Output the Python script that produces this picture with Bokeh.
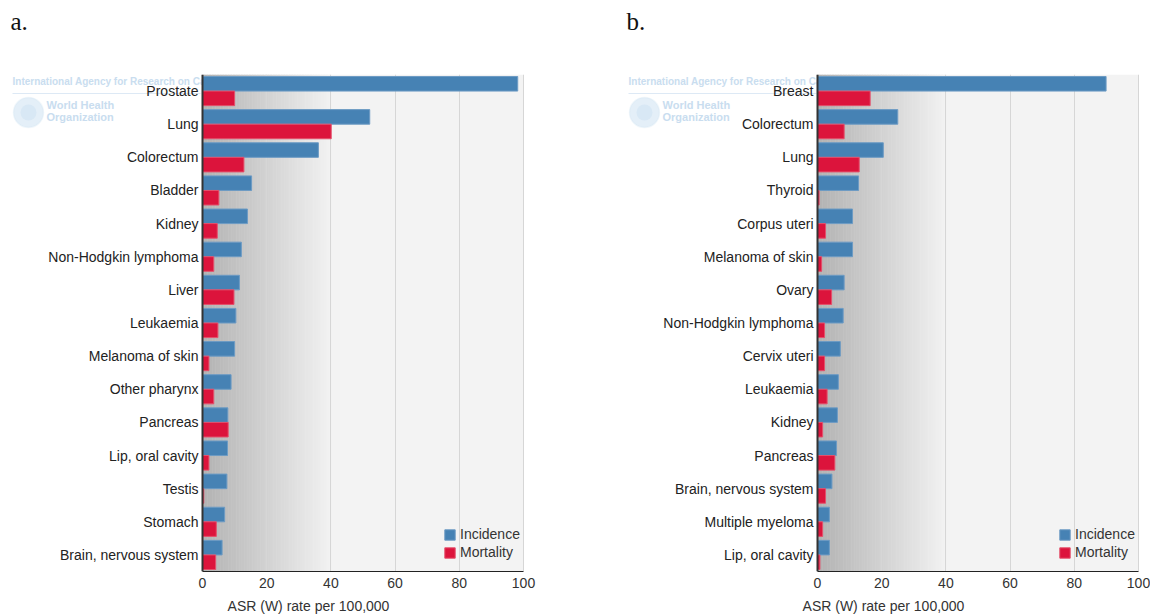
from bokeh.plotting import figure
from bokeh.layouts import row
from bokeh.models import (Range1d, FactorRange, Label, Legend, LegendItem,
                          ColumnDataSource, BoxAnnotation, Title)
from bokeh.transform import dodge
from bokeh.embed import file_html
from bokeh.resources import INLINE
import numpy as np

# ---------------- data ----------------
men_sites = ["Prostate", "Lung", "Colorectum", "Bladder", "Kidney",
             "Non-Hodgkin lymphoma", "Liver", "Leukaemia", "Melanoma of skin",
             "Other pharynx", "Pancreas", "Lip, oral cavity", "Testis",
             "Stomach", "Brain, nervous system"]
men_incidence = [98.2, 52.1, 36.1, 15.3, 14.0, 12.1, 11.5, 10.4, 10.0, 8.9,
                 7.9, 7.8, 7.6, 6.9, 6.1]
men_mortality = [10.0, 40.1, 12.9, 5.1, 4.6, 3.5, 9.8, 4.8, 2.0, 3.5,
                 8.0, 2.0, 0.4, 4.3, 4.1]

women_sites = ["Breast", "Colorectum", "Lung", "Thyroid", "Corpus uteri",
               "Melanoma of skin", "Ovary", "Non-Hodgkin lymphoma",
               "Cervix uteri", "Leukaemia", "Kidney", "Pancreas",
               "Brain, nervous system", "Multiple myeloma", "Lip, oral cavity"]
women_incidence = [89.9, 25.0, 20.5, 12.8, 10.9, 10.9, 8.3, 8.0, 7.1, 6.5,
                   6.2, 5.9, 4.5, 3.7, 3.7]
women_mortality = [16.4, 8.3, 13.0, 0.5, 2.5, 1.3, 4.4, 2.2, 2.2, 3.0,
                   1.6, 5.4, 2.5, 1.6, 0.75]

x_ticks = [0, 20, 40, 60, 80, 100]
series_names = ["Incidence", "Mortality"]
axis_title = "ASR (W) rate per 100,000"
panel_letters = ["a.", "b."]
watermark_lines = ["International Agency for Research on Cancer",
                   "World Health", "Organization"]

BLUE = "#4682b4"
RED = "#dc143c"
FONT = "Liberation Sans"
PPU = 3.21          # pixels per x unit
TOP = 74            # frame top
HEIGHT = 616
BOTTOM = 45


def screen_box(left, right, bottom, top, **kw):
    return BoxAnnotation(left=left, right=right, bottom=bottom, top=top,
                         left_units="screen", right_units="screen",
                         bottom_units="screen", top_units="screen",
                         level="image", **kw)


def make_panel(letter, sites, inc, mort, left_px, width):
    factors = list(reversed(sites))
    src = ColumnDataSource(dict(site=sites, inc=inc, mort=mort))
    right_px = width - left_px - 100 * PPU
    p = figure(y_range=FactorRange(factors=factors),
               x_range=Range1d(-left_px / PPU, 100 + right_px / PPU),
               width=width, height=HEIGHT,
               min_border_left=0, min_border_right=0,
               min_border_top=TOP, min_border_bottom=BOTTOM,
               output_backend="svg", toolbar_location=None)
    p.border_fill_color = "white"
    p.background_fill_color = "white"
    p.outline_line_color = None
    fb = HEIGHT - BOTTOM      # page y of the frame bottom

    # faint watermark (behind the plotting area)
    wm = "#c9ddef"
    p.add_layout(Label(x=12, y=fb - 86, x_units="screen", y_units="screen",
                       text=watermark_lines[0], text_font=FONT,
                       text_font_style="bold", text_font_size="10px",
                       text_color=wm, level="image"))
    p.add_layout(screen_box(12, 200, fb - 93.5, fb - 92.5, fill_color="#dde9f5",
                            fill_alpha=1, line_color=None))
    p.add_layout(screen_box(13, 43, fb - 127, fb - 97, fill_color="#e4eff8",
                            fill_alpha=1, line_color="#d2e4f3", line_width=1.5,
                            border_radius=15))
    p.add_layout(screen_box(20, 36, fb - 120, fb - 104, fill_color="#d8e8f5",
                            fill_alpha=1, line_color=None, border_radius=8))
    p.add_layout(Label(x=46, y=fb - 110, x_units="screen", y_units="screen",
                       text=watermark_lines[1], text_font=FONT,
                       text_font_style="bold", text_font_size="11px",
                       text_color=wm, level="image"))
    p.add_layout(Label(x=46, y=fb - 122, x_units="screen", y_units="screen",
                       text=watermark_lines[2], text_font=FONT,
                       text_font_style="bold", text_font_size="11px",
                       text_color=wm, level="image"))

    # plotting area background + gradient from 0 to 40
    p.add_layout(BoxAnnotation(left=0, right=100, fill_color="#f3f3f3",
                               fill_alpha=1, line_color=None, level="image"))
    n = 80
    edges = np.linspace(0, 40, n + 1)
    for i in range(n):
        t = (i + 0.5) / n
        g = int(round(0xb2 + (0xf2 - 0xb2) * t))
        p.add_layout(BoxAnnotation(left=edges[i], right=edges[i + 1] + 0.15,
                                   fill_color=f"#{g:02x}{g:02x}{g:02x}",
                                   fill_alpha=1, line_color=None, level="image"))

    r1 = p.hbar(y=dodge("site", 0.22, range=p.y_range), left=0, right="inc",
                height=0.44, source=src, fill_color=BLUE,
                line_color="#6d9bc4", line_width=1)
    r2 = p.hbar(y=dodge("site", -0.22, range=p.y_range), left=0, right="mort",
                height=0.44, source=src, fill_color=RED,
                line_color="#e4506b", line_width=1)

    p.xgrid.grid_line_color = "#d6d6d6"
    p.ygrid.grid_line_color = None
    p.xaxis.ticker = x_ticks

    xa = p.xaxis[0]
    xa.bounds = (0, 100)
    xa.axis_line_color = "#222222"
    xa.major_tick_line_color = None
    xa.minor_tick_line_color = None
    xa.major_tick_out = 0
    xa.major_tick_in = 0
    xa.major_label_standoff = 6
    xa.major_label_text_font = FONT
    xa.major_label_text_font_size = "14px"
    xa.major_label_text_color = "#333333"
    xa.axis_label = axis_title
    xa.axis_label_text_font = FONT
    xa.axis_label_text_font_style = "normal"
    xa.axis_label_text_font_size = "14px"
    xa.axis_label_text_color = "#333333"
    xa.axis_label_standoff = 7

    ya = p.yaxis[0]
    ya.fixed_location = 0
    ya.axis_line_color = "#333333"
    ya.axis_line_width = 2
    ya.major_tick_line_color = None
    ya.minor_tick_line_color = None
    ya.major_tick_out = 0
    ya.major_tick_in = 0
    ya.major_label_standoff = 4
    ya.major_label_text_font = FONT
    ya.major_label_text_font_size = "14px"
    ya.major_label_text_color = "#222222"

    legend = Legend(items=[LegendItem(label=series_names[0], renderers=[r1]),
                           LegendItem(label=series_names[1], renderers=[r2])],
                    location=(left_px + 241, 11), padding=0, margin=0, spacing=2,
                    glyph_width=13, glyph_height=13, label_height=14,
                    label_standoff=4, label_text_font=FONT,
                    label_text_font_size="14px", label_text_color="#333333",
                    border_line_color=None, background_fill_alpha=0)
    p.add_layout(legend)

    # panel letter: a spacer title next to the frame, the letter above it
    p.add_layout(Title(text=" ", text_font_size="1px", standoff=37), "above")
    p.add_layout(Title(text=letter, align="left", offset=10, standoff=0,
                       vertical_align="bottom", text_font="Liberation Serif",
                       text_font_style="normal", text_font_size="25px",
                       text_color="#111111"), "above")
    return p


p1 = make_panel(panel_letters[0], men_sites, men_incidence, men_mortality, 202, 616)
p2 = make_panel(panel_letters[1], women_sites, women_incidence, women_mortality, 201, 534)

layout = row(p1, p2)
open("out.html", "w").write(file_html(layout, INLINE))
